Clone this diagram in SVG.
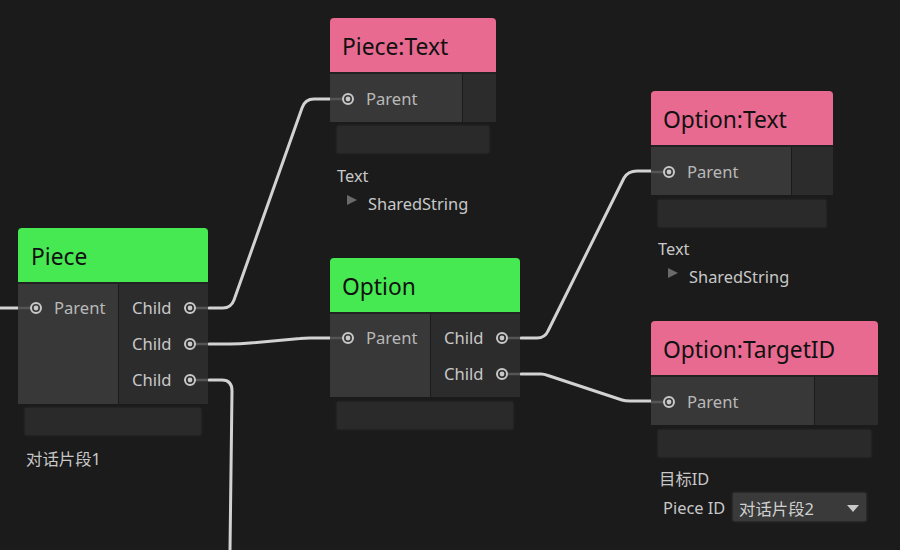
<svg xmlns="http://www.w3.org/2000/svg" width="900" height="550" viewBox="0 0 900 550">
<defs>
<style>
.bg{fill:#1b1b1b}
.hg{fill:#46e952}
.hp{fill:#e86a90}
.title{font-family:"Noto Sans","Noto Sans CJK SC",sans-serif;font-size:22.8px;fill:#111}
.inL{fill:#383838}
.outR{fill:#2c2c2c}
.div{fill:#222}
.bar{fill:#2a2a2a;stroke:#202020;stroke-width:1.5}
.lbl{font-family:"Noto Sans","Noto Sans CJK SC",sans-serif;font-size:16.6px;fill:#b8b8b8}
.lblc{font-family:"Noto Sans","Noto Sans CJK SC",sans-serif;font-size:16.6px;fill:#c8c8c8}
.cap{font-family:"Noto Sans","Noto Sans CJK SC",sans-serif;font-size:16.4px;fill:#c8c8c8}
.port{fill:none;stroke:#c8c8c8;stroke-width:2}
.dot{fill:#c8c8c8}
.stub{stroke:#555;stroke-width:2.5;fill:none}
.edge{stroke:#d2d2d2;stroke-width:3;fill:none;stroke-linecap:round;stroke-linejoin:round}
.tri{fill:#6a6a6a}
</style>
</defs>
<rect class="bg" x="0" y="0" width="900" height="550"/>

<g id="connectors">
<path class="edge" d="M0,308 L18,308"/>
<path class="edge" d="M209,308 L223,308 Q231,308 234,300 L302,108 Q305,99 314,99 L330,99"/>
<path class="edge" d="M209,344 L230,344 Q240,344 250,343 L300,338.5 Q304,338 310,338 L330,338"/>
<path class="edge" d="M209,380 L222,380 Q232,380 232,391 L230,550"/>
<path class="edge" d="M521,338 L537,338 Q545,338 548,331 L624,178 Q628,171 637,171 L651,171"/>
<path class="edge" d="M521,374 L541,374 Q544,374 548,375.5 L622,400 Q625,401 630,401 L651,401"/>
</g>

<g id="node-piece">
<path class="hg" d="M18,282 L18,232 Q18,228 22,228 L204,228 Q208,228 208,232 L208,282 Z"/>
<text class="title" x="31" y="265">Piece</text>
<rect class="div" x="18" y="282" width="190" height="2"/>
<rect class="inL" x="18" y="284" width="100" height="120"/>
<rect class="outR" x="119" y="284" width="89" height="120"/>
<line class="stub" x1="18" y1="308" x2="31" y2="308"/>
<circle class="port" cx="36" cy="308" r="5"/><circle class="dot" cx="36" cy="308" r="2.4"/>
<text class="lbl" x="54" y="314">Parent</text>
<line class="stub" x1="195" y1="308" x2="208" y2="308"/>
<line class="stub" x1="195" y1="344" x2="208" y2="344"/>
<line class="stub" x1="195" y1="380" x2="208" y2="380"/>
<text class="lblc" x="132" y="314">Child</text>
<text class="lblc" x="132" y="350">Child</text>
<text class="lblc" x="132" y="386">Child</text>
<circle class="port" cx="190" cy="308" r="5"/><circle class="dot" cx="190" cy="308" r="2.4"/>
<circle class="port" cx="190" cy="344" r="5"/><circle class="dot" cx="190" cy="344" r="2.4"/>
<circle class="port" cx="190" cy="380" r="5"/><circle class="dot" cx="190" cy="380" r="2.4"/>
<rect class="bar" x="24" y="407" width="178" height="29" rx="3"/>
<text class="cap" x="26" y="465">对话片段1</text>
</g>

<g id="node-piece-text">
<path class="hp" d="M330,72 L330,22 Q330,18 334,18 L492,18 Q496,18 496,22 L496,72 Z"/>
<text class="title" x="342" y="55">Piece:Text</text>
<rect class="div" x="330" y="72" width="166" height="2"/>
<rect class="inL" x="330" y="74" width="132" height="48"/>
<rect class="outR" x="463" y="74" width="33" height="48"/>
<line class="stub" x1="330" y1="99" x2="343" y2="99"/>
<circle class="port" cx="348" cy="99" r="5"/><circle class="dot" cx="348" cy="99" r="2.4"/>
<text class="lbl" x="366" y="105">Parent</text>
<rect class="bar" x="336" y="125" width="154" height="29" rx="3"/>
<text class="cap" x="337" y="182">Text</text>
<path class="tri" d="M347,195 L357,200 L347,205 Z"/>
<text class="cap" x="368" y="210">SharedString</text>
</g>

<g id="node-option">
<path class="hg" d="M330,312 L330,262 Q330,258 334,258 L516,258 Q520,258 520,262 L520,312 Z"/>
<text class="title" x="342" y="295">Option</text>
<rect class="div" x="330" y="312" width="190" height="2"/>
<rect class="inL" x="330" y="314" width="100" height="83"/>
<rect class="outR" x="431" y="314" width="89" height="83"/>
<line class="stub" x1="330" y1="338" x2="343" y2="338"/>
<circle class="port" cx="348" cy="338" r="5"/><circle class="dot" cx="348" cy="338" r="2.4"/>
<text class="lbl" x="366" y="344">Parent</text>
<line class="stub" x1="507" y1="338" x2="520" y2="338"/>
<line class="stub" x1="507" y1="374" x2="520" y2="374"/>
<text class="lblc" x="444" y="344">Child</text>
<text class="lblc" x="444" y="380">Child</text>
<circle class="port" cx="502" cy="338" r="5"/><circle class="dot" cx="502" cy="338" r="2.4"/>
<circle class="port" cx="502" cy="374" r="5"/><circle class="dot" cx="502" cy="374" r="2.4"/>
<rect class="bar" x="336" y="401" width="178" height="29" rx="3"/>
</g>

<g id="node-option-text">
<path class="hp" d="M651,145 L651,95 Q651,91 655,91 L829,91 Q833,91 833,95 L833,145 Z"/>
<text class="title" x="663" y="128">Option:Text</text>
<rect class="div" x="651" y="145" width="182" height="2"/>
<rect class="inL" x="651" y="147" width="140" height="48"/>
<rect class="outR" x="792" y="147" width="41" height="48"/>
<line class="stub" x1="651" y1="172" x2="664" y2="172"/>
<circle class="port" cx="669" cy="172" r="5"/><circle class="dot" cx="669" cy="172" r="2.4"/>
<text class="lbl" x="687" y="178">Parent</text>
<rect class="bar" x="657" y="199" width="170" height="29" rx="3"/>
<text class="cap" x="658" y="255">Text</text>
<path class="tri" d="M668,268 L678,273 L668,278 Z"/>
<text class="cap" x="689" y="283">SharedString</text>
</g>

<g id="node-option-targetid">
<path class="hp" d="M651,375 L651,325 Q651,321 655,321 L874,321 Q878,321 878,325 L878,375 Z"/>
<text class="title" x="663" y="358">Option:TargetID</text>
<rect class="div" x="651" y="375" width="227" height="2"/>
<rect class="inL" x="651" y="377" width="163" height="48"/>
<rect class="outR" x="815" y="377" width="63" height="48"/>
<line class="stub" x1="651" y1="402" x2="664" y2="402"/>
<circle class="port" cx="669" cy="402" r="5"/><circle class="dot" cx="669" cy="402" r="2.4"/>
<text class="lbl" x="687" y="408">Parent</text>
<rect class="bar" x="657" y="429" width="215" height="29" rx="3"/>
<text class="cap" x="659" y="485">目标ID</text>
<text class="cap" x="663" y="514">Piece ID</text>
<rect x="732" y="492" width="135" height="30" rx="3" fill="#3a3a3a" stroke="#252525" stroke-width="1.5"/>
<text class="cap" x="739" y="515" style="fill:#d0d0d0">对话片段2</text>
<path d="M847,505 L859,505 L853,512 Z" fill="#c8c8c8"/>
</g>
</svg>
